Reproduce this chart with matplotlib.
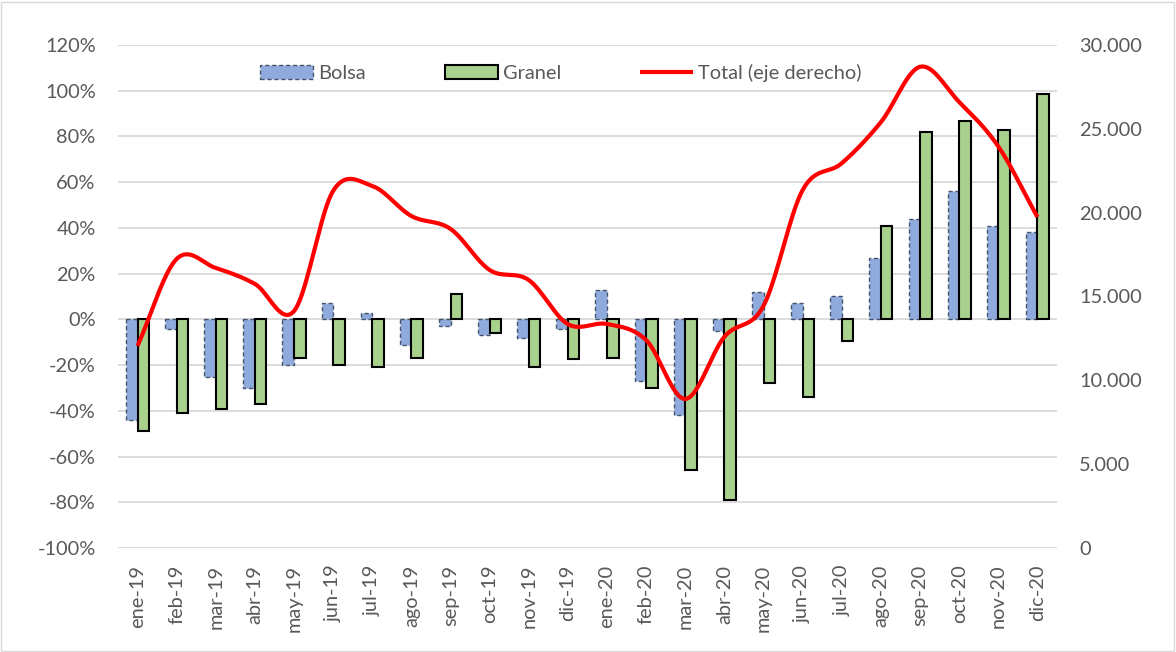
import numpy as np
import matplotlib.pyplot as plt
from matplotlib.ticker import FuncFormatter
from matplotlib.patches import Rectangle

plt.rcParams['font.family'] = ['Lato', 'DejaVu Sans']

meses = ["ene-19", "feb-19", "mar-19", "abr-19", "may-19", "jun-19", "jul-19", "ago-19",
         "sep-19", "oct-19", "nov-19", "dic-19", "ene-20", "feb-20", "mar-20", "abr-20",
         "may-20", "jun-20", "jul-20", "ago-20", "sep-20", "oct-20", "nov-20", "dic-20"]
bolsa = [-44, -4, -25, -30, -20, 7, 3, -11, -3, -7, -8, -4,
         13, -27, -42, -5, 12, 7, 10, 27, 44, 56, 41, 38]
granel = [-49, -41, -39, -37, -17, -20, -21, -17, 11, -6, -21, -17.5,
          -17, -30, -66, -79, -28, -34, -9.6, 40.7, 82, 86.6, 83, 98.4]
total = [12050, 17240, 16700, 15750, 14130, 21300, 21590, 19800, 19030, 16580, 15980, 13350,
         13360, 12400, 8890, 12600, 14450, 21350, 22950, 25400, 28700, 26600, 23950, 19740]


def catmull_rom(x, y, n=20):
    # suavizado tipo Excel (linea suavizada)
    px = np.concatenate([[2 * x[0] - x[1]], x, [2 * x[-1] - x[-2]]])
    py = np.concatenate([[2 * y[0] - y[1]], y, [2 * y[-1] - y[-2]]])
    xs, ys = [], []
    for i in range(1, len(px) - 2):
        t = np.linspace(0, 1, n, endpoint=False)
        for arr, out in ((px, xs), (py, ys)):
            p0, p1, p2, p3 = arr[i - 1], arr[i], arr[i + 1], arr[i + 2]
            out.extend(0.5 * (2 * p1 + (-p0 + p2) * t + (2 * p0 - 5 * p1 + 4 * p2 - p3) * t ** 2
                              + (-p0 + 3 * p1 - 3 * p2 + p3) * t ** 3))
    xs.append(x[-1])
    ys.append(y[-1])
    return np.array(xs), np.array(ys)


x = np.arange(len(meses))
w = 0.295
fs = 14.4
gris = "#595959"

fig = plt.figure(figsize=(11.76, 6.52), dpi=100)
ax = fig.add_axes([0.1003, 0.1595, 0.7985, 0.7715])
ax2 = ax.twinx()

ax.bar(x - w / 2, bolsa, w, color="#8faadc", edgecolor="#44546a", linestyle=(0, (3, 2)),
       linewidth=1.0, label="Bolsa", zorder=3)
ax.bar(x + w / 2, granel, w, color="#a9d18e", edgecolor="black", linewidth=1.5,
       label="Granel", zorder=3)

sx, sy = catmull_rom(x.astype(float), np.array(total, dtype=float))
ax2.plot(sx, sy, color="#ff0000", linewidth=3, label="Total (eje derecho)",
         solid_capstyle="butt")

ax.set_xlim(-0.5, len(meses) - 0.5)
ax.set_ylim(-100, 120)
ax.set_yticks(np.arange(-100, 121, 20))
ax.yaxis.set_major_formatter(FuncFormatter(lambda v, p: f"{v:.0f}%"))
ax2.set_ylim(0, 30000)
ax2.set_yticks(np.arange(0, 30001, 5000))
ax2.yaxis.set_major_formatter(FuncFormatter(lambda v, p: f"{v:,.0f}".replace(",", ".") if v else "0"))

ax.set_xticks(x)
ax.set_xticklabels(meses, rotation=90)
ax.grid(axis="y", color="#d9d9d9", linewidth=1.3, zorder=0)
ax.set_axisbelow(True)
for a in (ax, ax2):
    for s in a.spines.values():
        s.set_visible(False)
    a.tick_params(length=0, labelsize=fs, colors=gris)
ax.tick_params(axis="y", pad=16)
ax2.tick_params(axis="y", pad=16)
ax.tick_params(axis="x", pad=12)

h1, l1 = ax.get_legend_handles_labels()
h2, l2 = ax2.get_legend_handles_labels()
fig.legend(h1 + h2, l1 + l2, loc="center", bbox_to_anchor=(0.477, 0.888), ncol=3,
           frameon=False, fontsize=fs, handlelength=2.65, handletextpad=0.25,
           columnspacing=3.95, labelcolor=gris)

fig.add_artist(Rectangle((0.001, 0.002), 0.997, 0.995, transform=fig.transFigure,
                         fill=False, edgecolor="#d9d9d9", linewidth=1))

fig.savefig("out.png", dpi=100)
